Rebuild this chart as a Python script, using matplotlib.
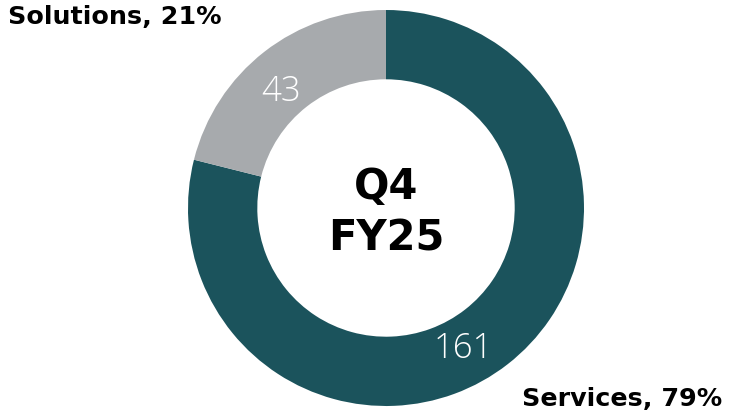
import matplotlib.pyplot as plt

# data
segments = ["Services", "Solutions"]
values = [161, 43]
shares = ["79%", "21%"]
colors = ["#1B535C", "#A7AAAD"]

W, H = 730, 418
fig = plt.figure(figsize=(W / 100, H / 100), dpi=100)
ax = fig.add_axes([0, 0, 1, 1])
ax.set_xlim(0, W)
ax.set_ylim(0, H)
ax.set_aspect("equal")
ax.axis("off")

cx, cy, r = 386, H - 208, 198
wedges, _ = ax.pie(values, colors=colors, startangle=90, counterclock=False,
                   center=(cx, cy), radius=r,
                   wedgeprops=dict(width=r * 0.35, linewidth=0))
ax.set_xlim(0, W)
ax.set_ylim(0, H)

# values inside the ring
ax.text(281, H - 92, str(values[1]), color="white", fontsize=25,
        fontfamily="Open Sans", fontweight=300, ha="center", va="center")
ax.text(463, H - 349, str(values[0]), color="white", fontsize=25,
        fontfamily="Open Sans", fontweight=300, ha="center", va="center")

# center title
ax.text(cx, H - 213, "Q4\nFY25", fontsize=30, fontweight="bold", fontfamily="DejaVu Sans",
        ha="center", va="center", linespacing=1.3, color="black")

# outside labels
ax.text(8, H - 17, f"{segments[1]}, {shares[1]}", fontsize=18.3, fontweight="bold",
        fontfamily="DejaVu Sans", ha="left", va="center")
ax.text(722, H - 399, f"{segments[0]}, {shares[0]}", fontsize=18.3, fontweight="bold",
        fontfamily="DejaVu Sans", ha="right", va="center")

fig.savefig("out.png", dpi=100)
